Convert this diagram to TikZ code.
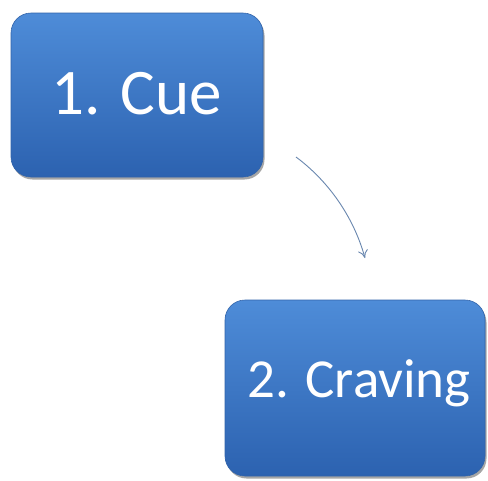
\documentclass[tikz,border=0pt]{standalone}
\usepackage{fontspec}
\setmainfont{Carlito}
\usetikzlibrary{arrows.meta,shadows,calc}
\definecolor{boxtop}{RGB}{78,140,216}
\definecolor{boxbot}{RGB}{44,98,176}
\definecolor{boxedge}{RGB}{50,100,170}
\definecolor{arrowcol}{RGB}{105,135,175}
\tikzset{
  stepbox/.style={rounded corners=20pt, top color=boxtop, bottom color=boxbot,
    draw=boxedge, line width=0.6pt,
    drop shadow={shadow xshift=1.5pt, shadow yshift=-2.5pt, opacity=0.35, fill=black}},
  boxtext/.style={text=white, inner sep=0pt},
  flow/.style={draw=arrowcol, line width=0.9pt, -{To[length=8pt,width=10pt]}}
}
\begin{document}
\begin{tikzpicture}[x=1pt,y=-1pt]
\useasboundingbox (0,0) rectangle (488,480);
\fill[white] (0,0) rectangle (488,480);
\begin{scope}
\clip (0,0) rectangle (488,480);
\path[stepbox] (11,13) rectangle (263,177);
\node[boxtext, font=\fontsize{65}{70}\selectfont] (cue) at (137,94) {1. Cue};
\path[stepbox] (225,300) rectangle (485,476);
\node[boxtext, font=\fontsize{55}{60}\selectfont] (craving) at (359,383) {2. Craving};
\end{scope}
\coordinate (s) at (296,157);
\coordinate (e) at (365,258);
\draw[flow] (s) .. controls (327,180) and (353,215) .. (e);
\end{tikzpicture}
\end{document}
